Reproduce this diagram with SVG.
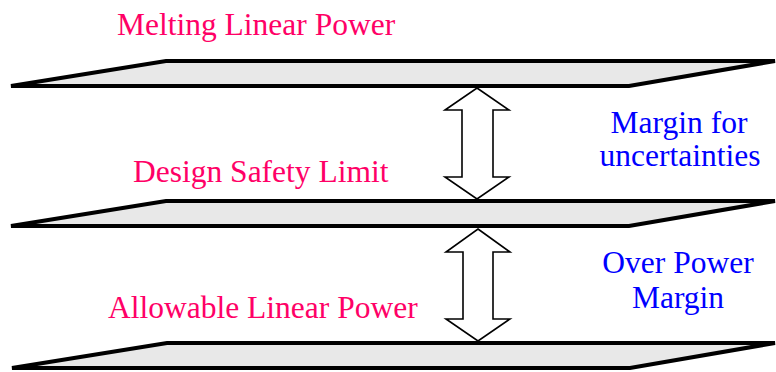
<svg xmlns="http://www.w3.org/2000/svg" width="776" height="372" viewBox="0 0 776 372">
<style>
.plate{fill:#e8e8e8;stroke:#000;stroke-width:4;stroke-linejoin:miter}
.arr{fill:#fff;stroke:#000;stroke-width:1.6;stroke-linejoin:miter}
.pink{font-family:"Liberation Serif","Times New Roman",serif;font-size:31.5px;fill:#ff0066}
.blue{font-family:"Liberation Serif","Times New Roman",serif;font-size:31.5px;fill:#0000ff;text-anchor:middle}
</style>
<rect width="776" height="372" fill="#fff"/>
<g id="plate-melting">
<path class="plate" d="M11,86 L166,61 L775,61 L629,86 Z"/>
<text class="pink" x="117" y="35">Melting Linear Power</text>
</g>
<g id="plate-design">
<path class="plate" d="M11,226 L166,201 L775,201 L629,226 Z"/>
<text class="pink" x="133" y="182">Design Safety Limit</text>
</g>
<g id="plate-allowable">
<path class="plate" d="M12,368 L167,343 L775,343 L630,368 Z"/>
<text class="pink" x="108" y="318">Allowable Linear Power</text>
</g>
<g id="connectors">
<polygon class="arr" points="477,88 509,110 493,110 493,177 509,177 477,199 445,177 462,177 462,110 445,110"/>
<polygon class="arr" points="478,229 510,252 493,252 493,319 510,319 478,341 446,319 463,319 463,252 446,252"/>
</g>
<g id="label-uncertainties">
<text class="blue" x="679" y="133">Margin for</text>
<text class="blue" x="680" y="166">uncertainties</text>
</g>
<g id="label-overpower">
<text class="blue" x="678" y="273">Over Power</text>
<text class="blue" x="678" y="308">Margin</text>
</g>
</svg>
